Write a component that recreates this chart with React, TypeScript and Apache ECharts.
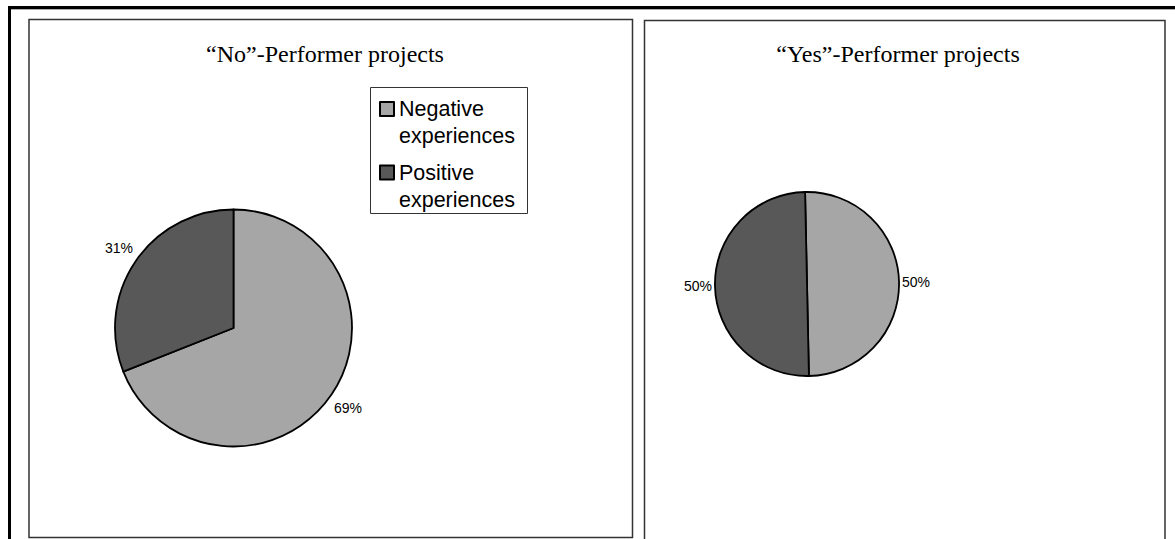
import React, { useEffect, useRef } from 'react';
import * as echarts from 'echarts';

// Slice categories shared by both pies
const categories = ['Negative experiences', 'Positive experiences'];
// Share of experiences per project group (percent)
const noPerformerValues = [69, 31];
const yesPerformerValues = [50, 50];
const chartTitles = ['\u201CNo\u201D-Performer projects', '\u201CYes\u201D-Performer projects'];
const sliceColors = ['#a6a6a6', '#585858'];

const SANS = '"Liberation Sans", Arial, sans-serif';
const SERIF = '"Liberation Serif", "Times New Roman", serif';

export default function App() {
  const ref = useRef<HTMLDivElement>(null);

  useEffect(() => {
    if (!ref.current) return;
    const chart = echarts.init(ref.current, null, { renderer: 'svg' });

    const pieBase = (values: number[]) => ({
      type: 'pie',
      clockwise: true,
      avoidLabelOverlap: false,
      silent: true,
      emphasis: { disabled: true },
      data: categories.map((name, i) => ({ name, value: values[i] })),
      itemStyle: { borderColor: '#000', borderWidth: 1.8 },
      label: {
        show: true,
        position: 'outside',
        color: '#000',
        fontFamily: SANS,
        fontSize: 14,
        formatter: (p: any) => `${Math.round(p.percent)}%`,
      },
    });

    const titleStyle = { fontFamily: SERIF, fontSize: 24, fontWeight: 'normal', color: '#000' };

    chart.setOption({
      animation: false,
      color: sliceColors,
      title: [
        { text: chartTitles[0], left: 325, top: 41.5, textAlign: 'center', padding: 0, textStyle: titleStyle },
        { text: chartTitles[1], left: 898, top: 41.5, textAlign: 'center', padding: 0, textStyle: titleStyle },
      ],
      legend: {
        orient: 'vertical',
        left: 379,
        top: 68.5,
        padding: 0,
        data: categories,
        icon: 'rect',
        itemWidth: 14,
        itemHeight: 14,
        itemGap: -17.5,
        selectedMode: false,
        // an empty leading line keeps the marker level with the first word
        formatter: (name: string) => '\n' + name.replace(' ', '\n'),
        textStyle: {
          fontFamily: SANS,
          fontSize: 21.5,
          lineHeight: 27,
          color: '#000',
        },
      },
      graphic: [
        // outer frame
        {
          type: 'rect',
          silent: true,
          shape: { x: 9.5, y: 7.5, width: 1300, height: 700 },
          style: { fill: 'none', stroke: '#000', lineWidth: 3 },
        },
        {
          type: 'line',
          silent: true,
          shape: { x1: 11, y1: 9.5, x2: 1175, y2: 9.5 },
          style: { stroke: '#b0b0b0', lineWidth: 1 },
        },
        // panel frames
        {
          type: 'rect',
          silent: true,
          shape: { x: 29, y: 19.5, width: 603.5, height: 518 },
          style: { fill: 'none', stroke: '#333', lineWidth: 1.5 },
        },
        {
          type: 'rect',
          silent: true,
          shape: { x: 644.5, y: 20.5, width: 520.5, height: 600 },
          style: { fill: 'none', stroke: '#333', lineWidth: 1.5 },
        },
        // legend frame
        {
          type: 'rect',
          silent: true,
          shape: { x: 370.5, y: 87.5, width: 157, height: 126 },
          style: { fill: 'none', stroke: '#333', lineWidth: 1 },
        },
      ],
      series: [
        {
          ...pieBase(noPerformerValues),
          name: chartTitles[0],
          center: [233.5, 328],
          radius: 118.5,
          startAngle: 90,
          labelLine: { show: false, length: 23, length2: 0 },
          label: { ...pieBase(noPerformerValues).label, distanceToLabelLine: -16.5 },
        },
        {
          ...pieBase(yesPerformerValues),
          name: chartTitles[1],
          center: [807, 284],
          radius: 92,
          startAngle: 91.2,
          labelLine: { show: false, length: 23, length2: 0 },
          label: { ...pieBase(yesPerformerValues).label, distanceToLabelLine: -20 },
        },
      ],
    });

    return () => chart.dispose();
  }, []);

  return (
    <div
      ref={ref}
      style={{ position: 'fixed', left: 0, top: 0, width: 1175, height: 539, background: '#fff' }}
    />
  );
}
